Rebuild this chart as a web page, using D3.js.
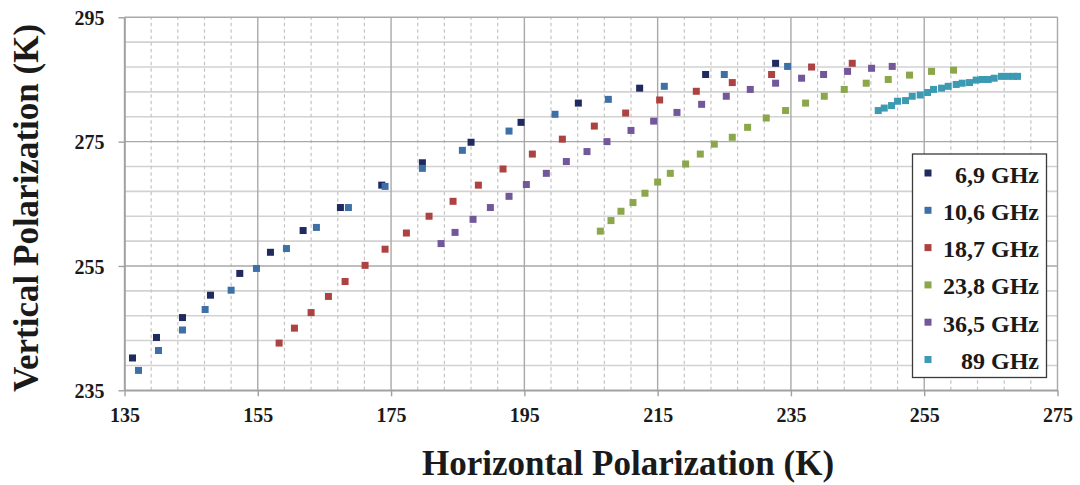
<!DOCTYPE html>
<html>
<head>
<meta charset="utf-8">
<script src="https://cdn.jsdelivr.net/npm/d3@7"></script>
<style>
  html, body { margin: 0; padding: 0; background: #fff; }
  svg { display: block; }
  text { font-family: "Liberation Serif", "Times New Roman", serif; font-weight: bold; fill: #1a1a1a; }
</style>
</head>
<body>
<svg id="chart" width="1080" height="485"></svg>
<script>
// Brightness temperatures (K): horizontal vs vertical polarization, per channel
const seriesNames = ["6,9 GHz", "10,6 GHz", "18,7 GHz", "23,8 GHz", "36,5 GHz", "89 GHz"];
const seriesColors = ["#1f2b5e", "#3e70a8", "#ad4242", "#8ba64b", "#72589b", "#3c9ab2"];

const h069 = [136.2,139.8,143.7,147.9,152.3,156.9,161.8,167.4,173.6,179.7,187.0,194.5,203.1,212.3,222.2,232.7];
const v069 = [240.2,243.5,246.7,250.3,253.8,257.2,260.7,264.4,268.0,271.6,274.9,278.1,281.2,283.6,285.8,287.6];

const h106 = [137.1,140.1,143.7,147.1,151.0,154.8,159.3,163.8,168.6,174.1,179.7,185.7,192.7,199.6,207.6,216.0,225.0,234.5];
const v106 = [238.2,241.4,244.7,248.0,251.1,254.6,257.8,261.2,264.4,267.8,270.7,273.6,276.7,279.4,281.8,283.9,285.8,287.1];

const h187 = [158.2,160.5,163.0,165.6,168.1,171.1,174.1,177.3,180.7,184.3,188.1,191.8,196.2,200.7,205.5,210.2,215.3,220.8,226.2,232.1,238.1,244.2];
const v187 = [242.6,245.0,247.5,250.1,252.5,255.1,257.7,260.3,263.0,265.4,268.0,270.6,273.0,275.4,277.5,279.6,281.7,283.1,284.5,285.8,287.0,287.6];

const h238 = [206.4,208.0,209.5,211.3,213.1,215.0,216.9,219.2,221.4,223.5,226.2,228.5,231.3,234.2,237.2,240.0,243.0,246.3,249.6,252.8,256.1,259.4];
const v238 = [260.6,262.3,263.8,265.2,266.7,268.5,269.9,271.4,273.0,274.6,275.7,277.3,278.8,280.0,281.2,282.3,283.4,284.4,285.0,285.7,286.3,286.5];

const h365 = [182.5,184.6,187.3,189.9,192.7,195.3,198.3,201.3,204.4,207.4,211.0,214.4,217.9,221.6,225.3,228.9,232.7,236.6,239.9,243.5,247.1,250.2];
const v365 = [258.6,260.4,262.5,264.4,266.2,268.1,269.9,271.8,273.4,275.0,276.8,278.3,279.7,281.0,282.3,283.4,284.4,285.2,285.8,286.3,286.8,287.1];

const h890 = [248.1,249.0,250.1,251.0,252.2,253.2,254.4,255.5,256.4,257.6,258.6,259.8,260.7,261.8,262.8,263.7,264.6,265.5,266.6,267.5,268.4,269.0];
const v890 = [280.0,280.4,280.8,281.5,281.6,282.3,282.5,282.9,283.4,283.6,283.9,284.2,284.4,284.5,284.9,285.0,285.0,285.2,285.5,285.5,285.5,285.5];

const xTicks = [135, 155, 175, 195, 215, 235, 255, 275];
const yTicks = [235, 255, 275, 295];

const hSeries = [h069, h106, h187, h238, h365, h890];
const vSeries = [v069, v106, v187, v238, v365, v890];

const series = seriesNames.map((name, i) => ({
  name, color: seriesColors[i],
  points: hSeries[i].map((h, j) => ({ h, v: vSeries[i][j] }))
}));

const svg = d3.select("#chart");
const x = d3.scaleLinear().domain([135, 275]).range([124.5, 1057.5]);
const y = d3.scaleLinear().domain([235, 295]).range([390.3, 17.3]);

// minor grid: every 4 K
const minorX = d3.range(135, 275.01, 4).filter(v => !xTicks.includes(v));
const minorY = d3.range(235, 295.01, 4).filter(v => !yTicks.includes(v));

const grid = svg.append("g");
grid.selectAll("line.minor-y").data(minorY).join("line")
  .attr("x1", x(135)).attr("x2", x(275))
  .attr("y1", d => y(d)).attr("y2", d => y(d))
  .attr("stroke", "#d2d2d2").attr("stroke-width", 1.6);
grid.selectAll("line.minor-x").data(minorX).join("line")
  .attr("x1", d => x(d)).attr("x2", d => x(d))
  .attr("y1", y(235)).attr("y2", y(295))
  .attr("stroke", "#c4c4c4").attr("stroke-width", 1.2)
  .attr("stroke-dasharray", "3.5,3");
grid.selectAll("line.major-y").data(yTicks).join("line")
  .attr("x1", x(135)).attr("x2", x(275))
  .attr("y1", d => y(d)).attr("y2", d => y(d))
  .attr("stroke", "#a9a9a9").attr("stroke-width", 1.4);
grid.selectAll("line.major-x").data(xTicks).join("line")
  .attr("x1", d => x(d)).attr("x2", d => x(d))
  .attr("y1", y(235)).attr("y2", y(295))
  .attr("stroke", "#a9a9a9").attr("stroke-width", 1.4);

// axes
const xAxis = svg.append("g").attr("transform", `translate(0,${y(235)})`)
  .call(d3.axisBottom(x).tickValues(xTicks).tickSize(6).tickSizeOuter(0).tickPadding(12));
const yAxis = svg.append("g").attr("transform", `translate(${x(135)},0)`)
  .call(d3.axisLeft(y).tickValues(yTicks).tickSize(6).tickSizeOuter(0).tickPadding(14));
[xAxis, yAxis].forEach(a => {
  a.select(".domain").attr("stroke", "#a0a0a0").attr("stroke-width", 1.6);
  a.selectAll(".tick line").attr("stroke", "#a0a0a0").attr("stroke-width", 1.4);
  a.selectAll(".tick text")
    .style("font-family", '"Liberation Serif", "Times New Roman", serif')
    .style("font-weight", "bold").style("font-size", "20px").attr("fill", "#1a1a1a");
});
yAxis.selectAll(".tick text").attr("dy", "0.36em");
xAxis.selectAll(".tick text").attr("dy", "0.71em");

// markers
const sq = 7;
series.forEach(s => {
  svg.append("g").selectAll("rect").data(s.points).join("rect")
    .attr("x", d => x(d.h) - sq / 2).attr("y", d => y(d.v) - sq / 2)
    .attr("width", sq).attr("height", sq).attr("fill", s.color);
});

// axis titles
svg.append("text")
  .attr("x", 628).attr("y", 475).attr("text-anchor", "middle")
  .style("font-size", "35px").text("Horizontal Polarization (K)");
svg.append("text")
  .attr("transform", "translate(38,208) rotate(-90)").attr("text-anchor", "middle")
  .style("font-size", "35px").text("Vertical Polarization (K)");

// legend
const lg = svg.append("g");
lg.append("rect").attr("x", 912.5).attr("y", 154).attr("width", 134).attr("height", 223.5)
  .attr("fill", "#fff").attr("stroke", "#3a3a3a").attr("stroke-width", 1.3);
const li = lg.selectAll("g.item").data(series).join("g")
  .attr("transform", (d, i) => `translate(0,${173 + i * 37.3})`);
li.append("rect").attr("x", 928 - 3.5).attr("y", -3.5).attr("width", 7).attr("height", 7)
  .attr("fill", d => d.color);
li.append("text").attr("x", 1039).attr("y", 9.5).attr("text-anchor", "end")
  .style("font-size", "24px").text(d => d.name);
</script>
</body>
</html>
